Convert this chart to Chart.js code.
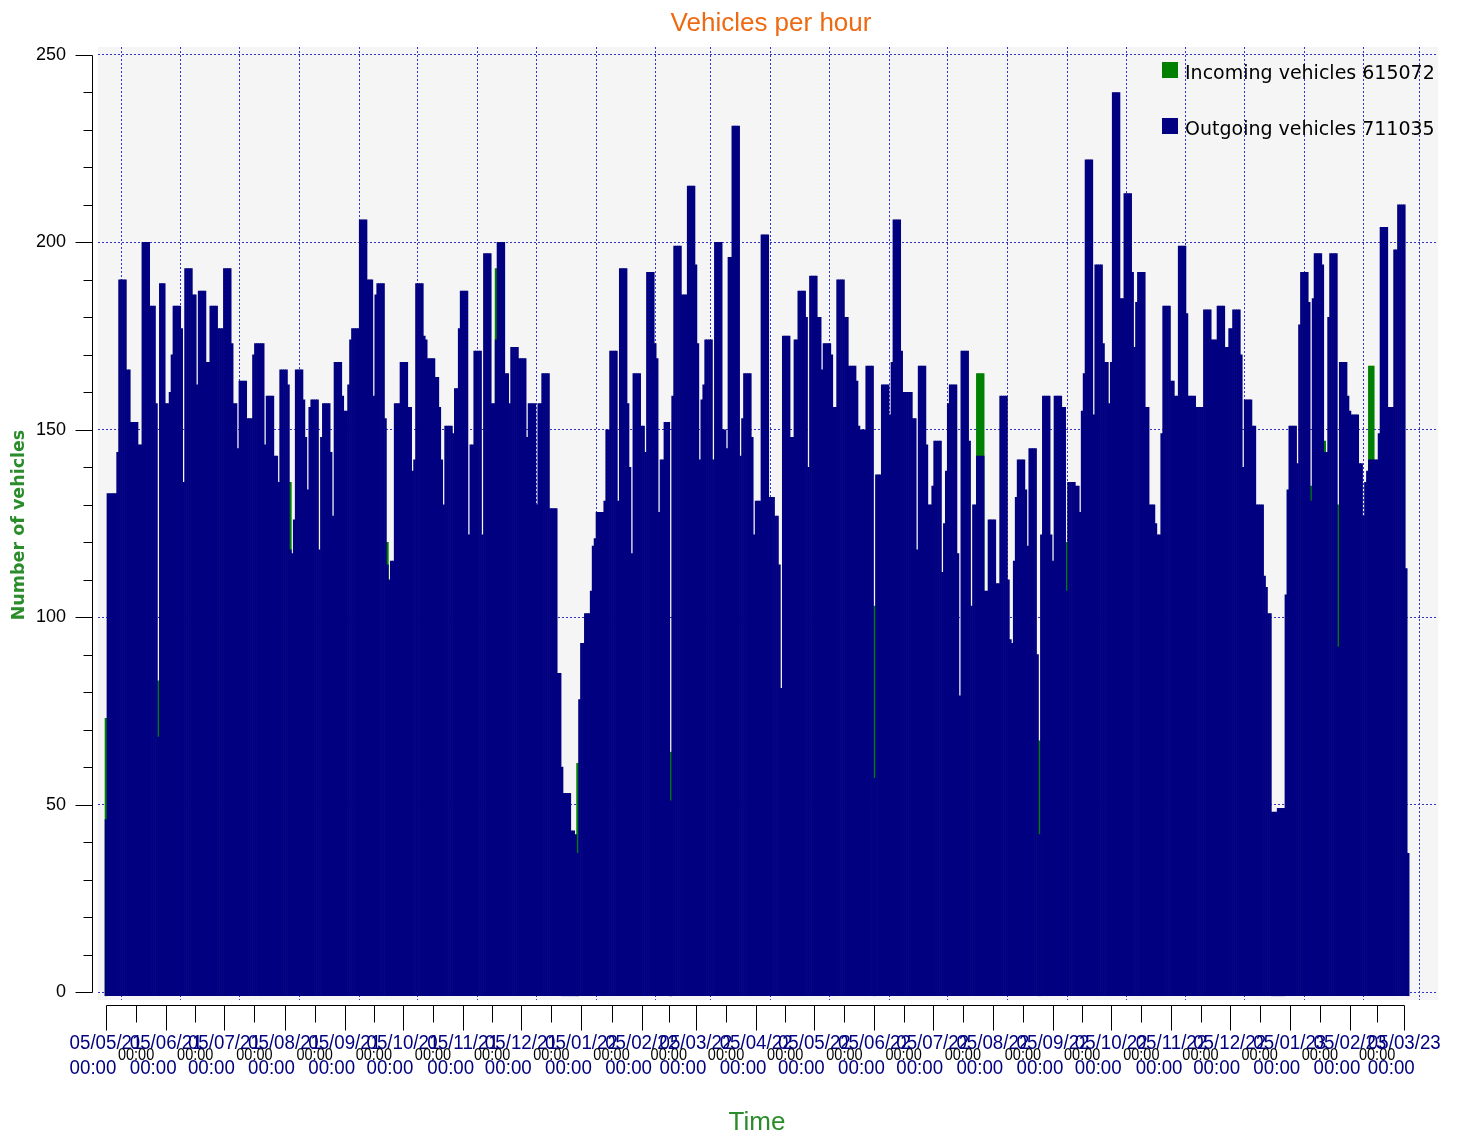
<!DOCTYPE html>
<html>
<head>
<meta charset="utf-8">
<title>Vehicles per hour</title>
<script src="https://cdn.jsdelivr.net/npm/chart.js@4.4.1/dist/chart.umd.min.js"></script>
<style>
  html, body { margin: 0; padding: 0; background: #fff; }
  #wrap { width: 1460px; height: 1137px; position: relative; }
</style>
</head>
<body>
<div id="wrap"><canvas id="vehicles_chart"></canvas></div>
<script>
// totals shown in the legend
const incomingTotal = 615072
const outgoingTotal = 711035

// month ticks (dd/mm/yy), day 0 = 05/05/21
const tickLabels = ['05/05/21', '05/06/21', '05/07/21', '05/08/21', '05/09/21', '05/10/21', '05/11/21', '05/12/21',
  '05/01/22', '05/02/22', '05/03/22', '05/04/22', '05/05/22', '05/06/22', '05/07/22', '05/08/22', '05/09/22',
  '05/10/22', '05/11/22', '05/12/22', '05/01/23', '05/02/23', '05/03/23', '05/04/23']
const yTickValues = [0, 10, 20, 30, 40, 50, 60, 70, 80, 90, 100, 110, 120, 130, 140, 150, 160, 170, 180, 190, 200, 210, 220, 230, 240, 250]

// outgoing vehicles, one value per day starting 05/05/21
const outgoing = [
  46,133,133,133,133,133,144,190,190,190,190,166,166,152,152,152,152,146,146,200,
  200,200,200,183,183,183,157,68,189,189,189,157,157,160,170,183,183,183,183,177,
  136,193,193,193,193,186,186,162,187,187,187,187,168,168,183,183,183,183,177,177,
  177,193,193,193,193,173,157,157,145,163,163,163,163,153,153,153,170,173,173,173,
  173,173,146,159,159,159,159,143,143,136,166,166,166,166,162,118,117,126,166,166,
  166,166,158,148,134,156,158,158,158,158,118,148,157,157,157,157,144,127,168,168,
  168,168,159,155,155,162,174,177,177,177,177,206,206,206,206,190,190,190,159,186,
  189,189,189,189,153,114,110,115,115,157,157,157,168,168,168,168,156,156,139,142,
  189,189,189,189,175,174,169,169,169,169,164,164,156,142,130,151,151,151,151,149,
  161,161,177,187,187,187,187,122,146,146,171,171,171,171,122,197,197,197,197,157,
  157,174,200,200,200,200,165,165,157,172,172,172,172,169,169,169,169,148,157,157,
  157,157,130,157,157,165,165,165,165,129,129,129,129,85,85,60,53,53,53,53,
  43,43,42,37,78,93,93,101,101,101,107,119,121,128,128,128,128,131,150,150,
  171,171,171,171,131,193,193,193,193,157,140,117,165,165,165,165,151,151,144,192,
  192,192,192,173,169,128,142,142,152,152,152,51,159,199,199,199,199,186,186,186,
  215,215,215,215,194,173,142,158,162,174,174,174,174,142,200,200,200,200,150,150,
  145,196,196,231,231,231,231,143,153,165,165,165,165,148,122,131,131,131,202,202,
  202,202,132,132,132,127,127,114,81,175,175,175,175,148,148,174,174,187,187,187,
  187,180,140,191,191,191,191,180,180,166,173,173,173,173,170,156,156,190,190,190,
  190,180,180,167,167,167,167,163,151,150,150,150,167,167,167,167,57,138,138,138,
  162,162,162,162,154,168,206,206,206,206,171,160,160,160,160,160,153,153,118,167,
  167,167,167,146,130,130,135,147,147,147,147,112,125,139,157,162,162,162,162,117,
  79,171,171,171,171,147,103,130,130,143,143,143,143,107,107,126,126,126,126,109,
  109,159,159,159,159,110,94,93,115,132,142,142,142,142,134,119,145,145,145,145,
  90,42,122,159,159,159,159,122,115,159,159,159,159,156,156,107,136,136,136,136,
  135,135,128,155,165,222,222,222,222,154,194,194,194,194,173,168,168,157,168,240,
  240,240,240,185,185,213,213,213,213,192,172,184,192,192,192,192,156,156,130,130,
  130,125,122,122,149,183,183,183,183,163,163,159,159,199,199,199,199,181,159,159,
  159,159,156,156,156,156,182,182,182,182,174,174,174,183,183,183,183,172,172,177,
  177,182,182,182,182,170,140,158,158,158,158,151,151,130,130,130,130,111,108,101,
  101,48,48,48,49,49,49,49,106,134,151,151,151,151,141,178,192,192,192,192,
  184,131,185,197,197,197,197,194,144,144,180,197,197,197,197,92,168,168,168,168,
  159,155,154,154,154,154,141,141,127,136,139,142,142,142,142,142,149,204,204,204,
  204,156,156,156,198,198,210,210,210,210,113,37
]

// incoming vehicles, only the days where they stick out above the outgoing bars
const incomingDays = [0, 27, 95, 145, 201, 243, 291, 396, 449, 450, 451, 452, 481, 495, 621, 628, 635, 651, 652, 653]
const incoming = [73, 83, 136, 120, 193, 61, 64, 103, 165, 165, 165, 165, 67, 120, 135, 147, 130, 167, 167, 167]

const navy = '#000080'
const green = '#008000'
const gridBlue = '#3434c4'
const sansFont = '"Liberation Sans", Arial, sans-serif'

function toDay(s) {
    const [d, m, y] = s.split('/').map(Number)
    return Math.round((Date.UTC(2000 + y, m - 1, d) - Date.UTC(2021, 4, 5)) / 86400000)
}

const xMin = -4.12
const xMax = 686.37
const lastDay = toDay('05/03/23')

/**
 * long ticks at every month, short ticks half way between them
 */
const monthDays = tickLabels.map(toDay)
let xTicks = []
monthDays.forEach((d, i) => {
    xTicks.push({ value: d, long: true, label: tickLabels[i] })
    if (i < monthDays.length - 1) xTicks.push({ value: (d + monthDays[i + 1]) / 2, long: false })
})
xTicks = xTicks.filter(t => t.value >= xMin && t.value <= xMax)

function narrowText(ctx, text, x, y, sx) {
    ctx.save()
    ctx.translate(x, y)
    ctx.scale(sx, 1)
    ctx.fillText(text, 0, 0)
    ctx.restore()
}

/**
 * background, axis frame, tick labels, titles and legend
 */
const decorPlugin = {
    id: 'decor',
    beforeDraw(chart) {
        const { ctx, chartArea: a } = chart
        ctx.save()
        ctx.fillStyle = '#f5f5f5'
        ctx.fillRect(a.left, a.top, a.right - a.left, a.bottom - a.top)
        ctx.restore()
    },
    afterDraw(chart) {
        const { ctx, chartArea: a } = chart
        const xs = chart.scales.x
        const ys = chart.scales.y
        ctx.save()
        ctx.lineWidth = 1
        ctx.strokeStyle = '#000'

        // y axis line and ticks
        const ax = a.left - 5.5
        ctx.beginPath()
        ctx.moveTo(ax, Math.round(ys.getPixelForValue(250)) + 0.5)
        ctx.lineTo(ax, Math.round(ys.getPixelForValue(0)) + 0.5)
        yTickValues.forEach(v => {
            const py = Math.round(ys.getPixelForValue(v)) + 0.5
            const len = v % 50 === 0 ? 17 : 9
            ctx.moveTo(ax - len, py)
            ctx.lineTo(ax, py)
        })
        ctx.stroke()

        // x axis line and ticks
        const ay = a.bottom + 5.5
        ctx.beginPath()
        ctx.moveTo(Math.round(xs.getPixelForValue(0)) + 0.5, ay)
        ctx.lineTo(Math.round(xs.getPixelForValue(lastDay)) + 0.5, ay)
        xTicks.forEach(t => {
            if (t.value < 0 || t.value > lastDay) return
            const px = Math.round(xs.getPixelForValue(t.value)) + 0.5
            ctx.moveTo(px, ay)
            ctx.lineTo(px, ay + (t.long ? 25 : 17))
        })
        ctx.stroke()

        // x tick labels: date and time left aligned in one block centred on the tick
        ctx.textBaseline = 'middle'
        xTicks.forEach(t => {
            if (t.value < 0 || t.value > lastDay) return
            const px = xs.getPixelForValue(t.value)
            if (t.long) {
                const sx = 0.96
                ctx.fillStyle = navy
                ctx.font = '19.5px ' + sansFont
                ctx.textAlign = 'left'
                const left = px - ctx.measureText(t.label).width * sx / 2
                narrowText(ctx, t.label, left, a.bottom + 43.5, sx)
                narrowText(ctx, '00:00', left, a.bottom + 68.5, sx)
            } else {
                ctx.fillStyle = '#000'
                ctx.font = '16.5px ' + sansFont
                ctx.textAlign = 'center'
                narrowText(ctx, '00:00', px, a.bottom + 55.5, 0.88)
            }
        })

        // chart title
        ctx.textAlign = 'center'
        ctx.textBaseline = 'alphabetic'
        ctx.fillStyle = '#ee6a12'
        ctx.font = '26px ' + sansFont
        ctx.fillText('Vehicles per hour', 771, 31)

        // axis titles
        ctx.fillStyle = '#2a8c2a'
        ctx.fillText('Time', 757, 1130)
        ctx.save()
        ctx.translate(24, 525)
        ctx.rotate(-Math.PI / 2)
        ctx.font = 'bold 17.5px "DejaVu Sans", sans-serif'
        ctx.fillText('Number of vehicles', 0, 0)
        ctx.restore()

        // legend
        ctx.textAlign = 'left'
        ctx.font = '19px "DejaVu Sans", sans-serif'
        chart.data.datasets.forEach((ds, i) => {
            const top = 62 + i * 56
            ctx.fillStyle = ds.backgroundColor
            ctx.fillRect(1162, top, 16, 16)
            ctx.fillStyle = '#000'
            ctx.fillText(ds.label, 1185, top + 16.5)
        })
        ctx.restore()
    }
}

const vehiclesChart = new Chart(document.getElementById('vehicles_chart').getContext('2d'), {
    type: 'bar',
    data: {
        datasets: [{
            label: 'Incoming vehicles ' + incomingTotal,
            data: incomingDays.map((d, i) => ({ x: d, y: incoming[i] })),
            backgroundColor: green,
            order: 1
        },
        {
            label: 'Outgoing vehicles ' + outgoingTotal,
            data: outgoing.map((v, i) => ({ x: i, y: v })),
            backgroundColor: navy,
            order: 0
        }]
    },
    options: {
        responsive: true,
        maintainAspectRatio: false,
        animation: false,
        layout: { padding: { top: 47, right: 22, bottom: 0, left: 0 } },
        datasets: {
            bar: {
                grouped: false,
                barPercentage: 1,
                categoryPercentage: 1,
                borderWidth: 0,
                base: -1
            }
        },
        plugins: {
            legend: { display: false },
            title: { display: false },
            tooltip: { enabled: false }
        },
        scales: {
            x: {
                type: 'linear',
                min: xMin,
                max: xMax,
                offset: false,
                afterBuildTicks: scale => { scale.ticks = xTicks.map(t => ({ value: t.value })) },
                afterFit: scale => {
                    scale.height = 137
                    scale.paddingLeft = 0
                    scale.paddingRight = 0
                },
                grid: {
                    drawTicks: false,
                    lineWidth: 1,
                    color: ctx => (xTicks[ctx.index] && !xTicks[ctx.index].long) ? gridBlue : 'rgba(0,0,0,0)'
                },
                border: { display: false, dash: [2, 2] },
                ticks: { display: false }
            },
            y: {
                min: -2.13,
                max: 252.13,
                afterBuildTicks: scale => { scale.ticks = yTickValues.map(v => ({ value: v })) },
                afterFit: scale => {
                    scale.width = 98
                    scale.paddingTop = 0
                    scale.paddingBottom = 0
                },
                grid: {
                    drawTicks: false,
                    lineWidth: 1,
                    color: ctx => (ctx.tick && ctx.tick.value % 50 === 0) ? gridBlue : 'rgba(0,0,0,0)'
                },
                border: { display: false, dash: [2, 2] },
                ticks: {
                    padding: 32,
                    color: '#000',
                    font: { family: sansFont, size: 18 },
                    callback: v => v % 50 === 0 ? v : ''
                }
            }
        }
    },
    plugins: [decorPlugin]
})
</script>
</body>
</html>
